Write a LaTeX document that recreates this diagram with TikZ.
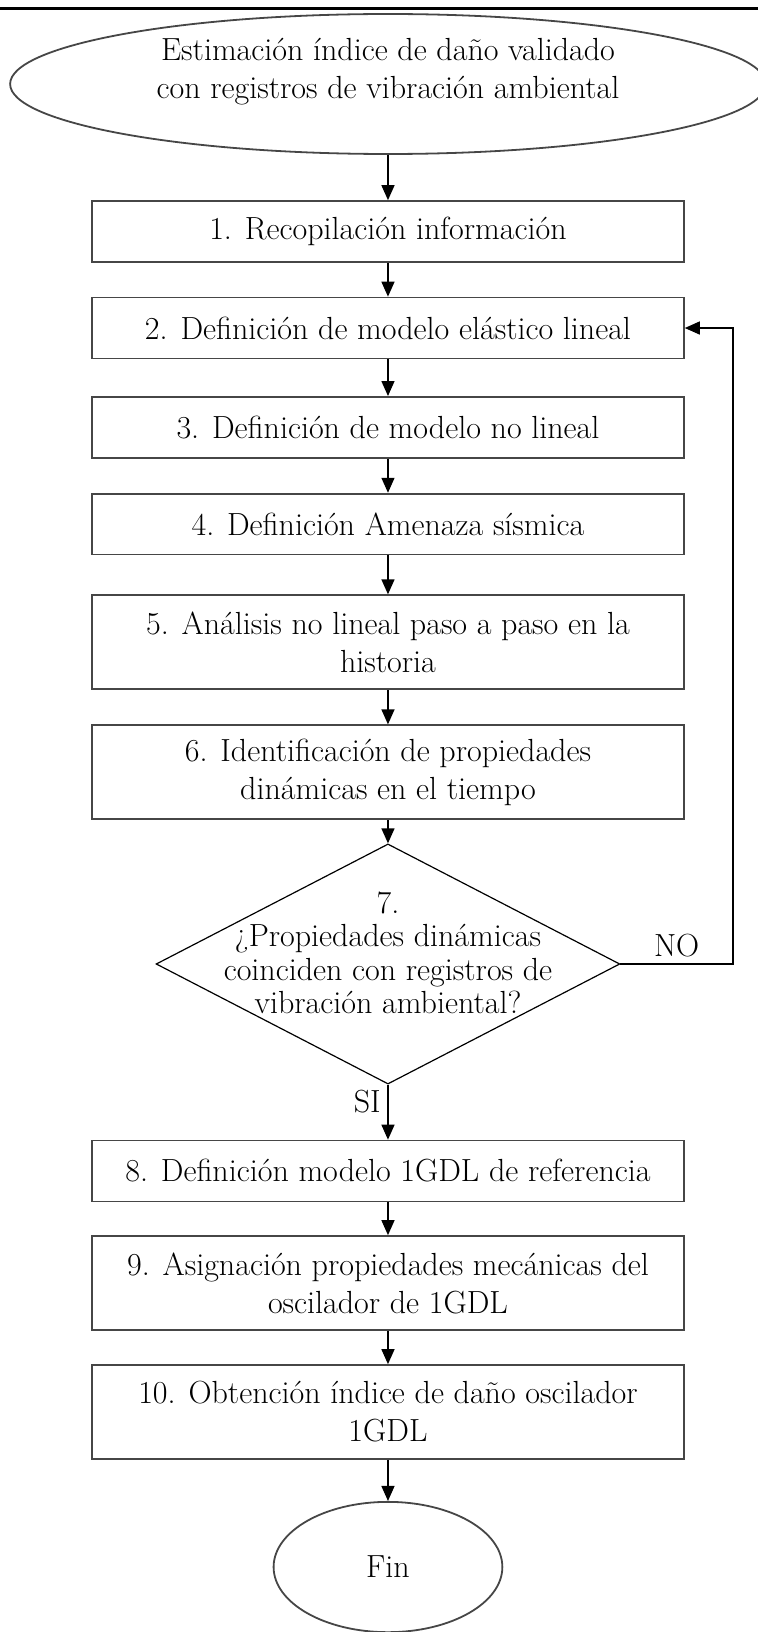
\documentclass[tikz,border=0pt]{standalone}
\usepackage{tikz}
\usetikzlibrary{arrows.meta,positioning,shapes.geometric}
\usepackage{xcolor}
\definecolor{EdgeGray}{RGB}{70,70,70}
\tikzset{
  stepbox/.style={draw=EdgeGray,line width=0.9pt,fill=white,inner xsep=4pt,
    minimum width=10.4cm,minimum height=1.07cm,align=center},
  twobox/.style={stepbox,minimum height=1.65cm},
  flowarrow/.style={-{Triangle[length=7.5pt,width=6.5pt]},
    line width=0.7pt,draw=black},
  terminator/.style={draw=EdgeGray,ellipse,line width=0.9pt,inner sep=0pt,
    align=center},
  decision/.style={draw,diamond,aspect=1.93,inner sep=0pt,
    minimum width=8.15cm,minimum height=4.22cm,line width=0.6pt},
}

\begin{document}
\begin{tikzpicture}[font=\fontsize{16}{19}\selectfont]
  \useasboundingbox (-6.818,0) rectangle (6.502,-28.679);
  \coordinate (topl) at (-6.818,-0.158);
  \coordinate (topr) at (6.502,-0.158);
  \draw[line width=1.5pt] (topl) -- (topr);

  % inicio
  \node[terminator,minimum width=13.28cm,minimum height=2.46cm] (start) at (0,-1.476) {};
  \node[align=center] (starttext) at (0,-1.25)
    {Estimación índice de daño validado\\con registros de vibración ambiental};

  % pasos
  \node[stepbox] (rec) at (0,-4.068) {1. Recopilación información};
  \node[stepbox] (elas) at (0,-5.764) {2. Definición de modelo elástico lineal};
  \node[stepbox] (nolin) at (0,-7.51) {3. Definición de modelo no lineal};
  \node[stepbox] (amen) at (0,-9.21) {4. Definición Amenaza sísmica};
  \node[twobox] (anal) at (0,-11.285) {5. Análisis no lineal paso a paso en la\\historia};
  \node[twobox] (ident) at (0,-13.57) {6. Identificación de propiedades\\dinámicas en el tiempo};

  % decision
  \node[decision] (dec) at (0,-16.94) {};
  \node[align=center,font=\fontsize{16}{16.7}\selectfont] (dectext) at (0,-16.74)
    {7.\\¿Propiedades dinámicas\\coinciden con registros de\\vibración ambiental?};

  \node[stepbox] (ref) at (0,-20.578) {8. Definición modelo 1GDL de referencia};
  \node[twobox] (asig) at (0,-22.546) {9. Asignación propiedades mecánicas del\\oscilador de 1GDL};
  \node[twobox] (obt) at (0,-24.813) {10. Obtención índice de daño oscilador\\1GDL};
  \node[terminator,minimum width=4.02cm,minimum height=2.29cm] (fin) at (0,-27.537) {Fin};

  % conectores
  \draw[flowarrow] (start) -- (rec);
  \draw[flowarrow] (rec) -- (elas);
  \draw[flowarrow] (elas) -- (nolin);
  \draw[flowarrow] (nolin) -- (amen);
  \draw[flowarrow] (amen) -- (anal);
  \draw[flowarrow] (anal) -- (ident);
  \draw[flowarrow] (ident) -- (dec.north);
  \coordinate (back) at (6.06,-16.94);
  \draw[flowarrow] (dec.east) -- node[above] (nolbl) {NO} (back) |- (elas.east);
  \draw[flowarrow] (dec.south) -- node[left,pos=0.3] (silbl) {SI} (ref);
  \draw[flowarrow] (ref) -- (asig);
  \draw[flowarrow] (asig) -- (obt);
  \draw[flowarrow] (obt) -- (fin);
\end{tikzpicture}
\end{document}
